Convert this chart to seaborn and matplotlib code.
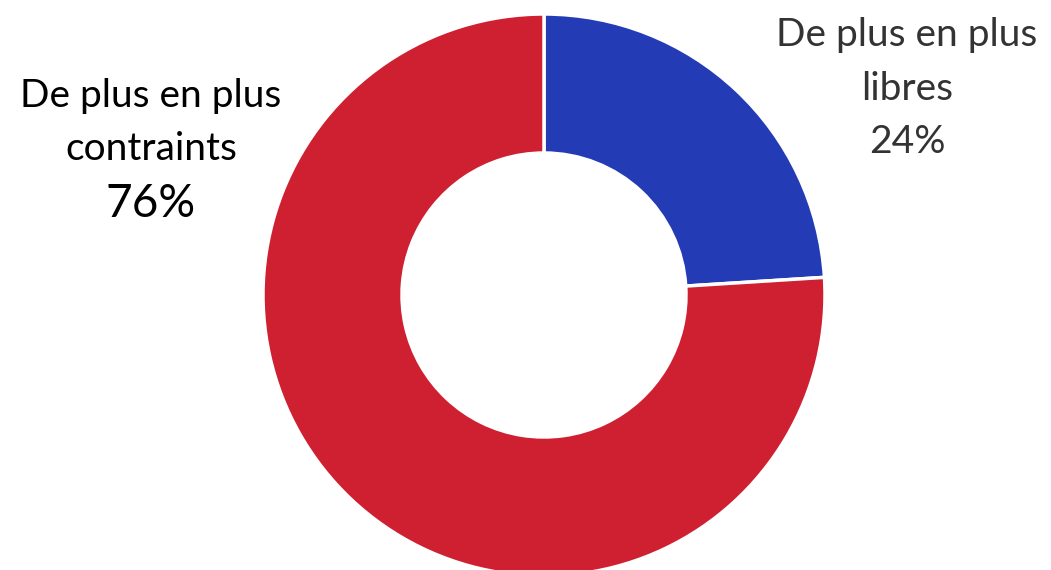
import seaborn as sns
import matplotlib.pyplot as plt

labels = [['De plus en plus', 'libres'], ['De plus en plus', 'contraints']]
shares = [24, 76]
colors = ['#233CB5', '#CE2030']

sns.set_theme(style = 'white')
plt.rcParams['font.family'] = ['Lato', 'DejaVu Sans']

fig = plt.figure(figsize = (10.51, 5.70), dpi = 100)
ax = fig.add_axes([0, 0, 1, 1])

ax.pie(
    shares,
    colors = colors,
    startangle = 90,
    counterclock = False,
    center = (544, 275),
    radius = 281,
    wedgeprops = {'width': 139, 'edgecolor': 'white', 'linewidth': 2.5}
)
ax.set_xlim(0, 1051)
ax.set_ylim(0, 570)
ax.set_aspect('equal')
ax.axis('off')

H = 570
# right label (blue slice), baselines in pixels from the top
for txt, y in zip(labels[0], [46, 100]):
    ax.text(907, H - y, txt, ha = 'center', va = 'baseline',
            fontsize = 28, color = '#333333')
ax.text(907, H - 153, f'{shares[0]}%', ha = 'center', va = 'baseline',
        fontsize = 28, color = '#333333')

# left label (red slice)
for txt, y in zip(labels[1], [107, 160]):
    ax.text(151, H - y, txt, ha = 'center', va = 'baseline',
            fontsize = 28, color = 'black')
ax.text(151, H - 217, f'{shares[1]}%', ha = 'center', va = 'baseline',
        fontsize = 33, color = 'black')

fig.savefig('out.png', dpi = 100)
